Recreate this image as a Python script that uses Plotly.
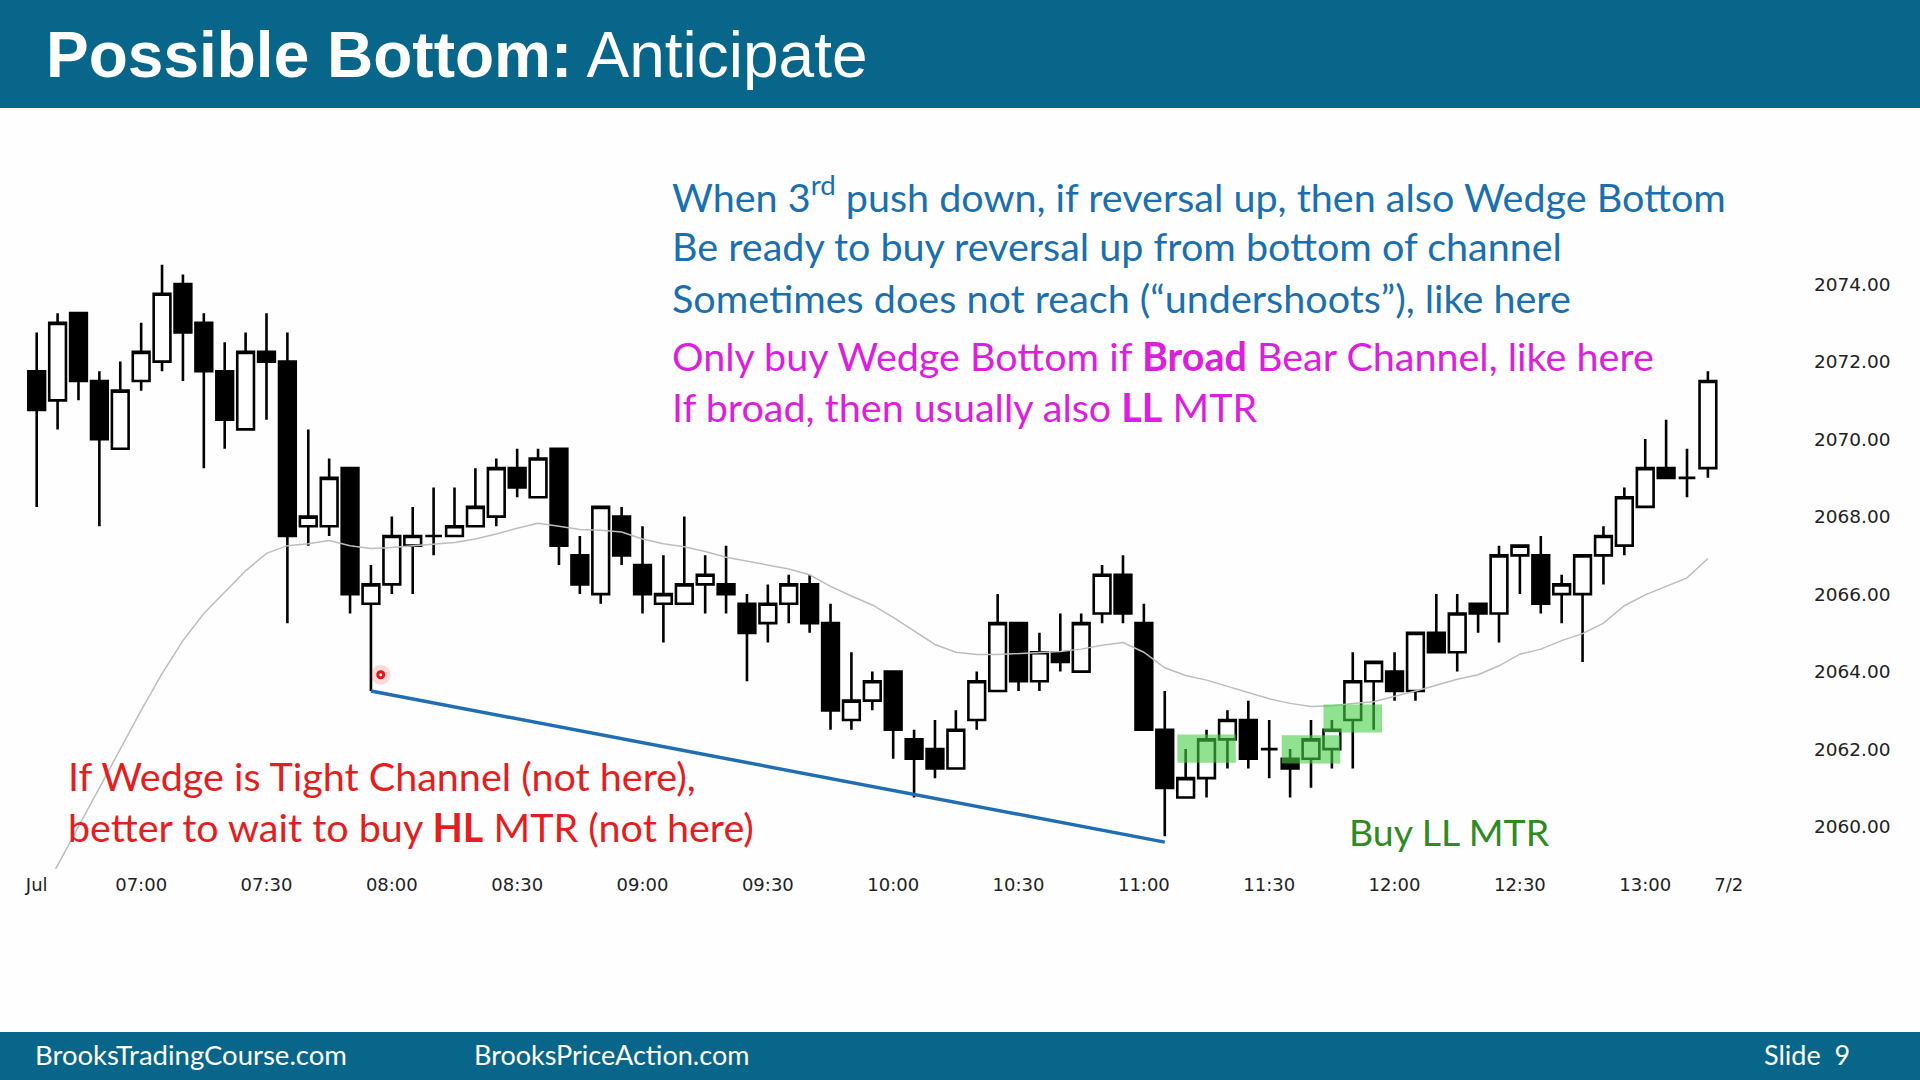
import plotly.graph_objects as go

# ---------------- data ----------------
bar_index = list(range(81))  # 5-min bars 06:35 .. 13:15
opens = [2071.75, 2071, 2073.25, 2071.5, 2069.75, 2071.5, 2072, 2074, 2073, 2071.75,
         2070.25, 2072.25, 2072, 2067.75, 2067.75, 2069.25, 2065.75, 2066.25, 2067.25, 2067.5,
         2067.5, 2067.75, 2068, 2069.25, 2068.5, 2069.75, 2067, 2066, 2068, 2066.75,
         2065.75, 2065.75, 2066.25, 2066.25, 2065.75, 2065.25, 2065.75, 2066.25, 2065.25, 2062.75,
         2063.25, 2064, 2062.25, 2062, 2061.5, 2062.75, 2063.5, 2065.25, 2063.75, 2064.5,
         2064, 2065.5, 2066.5, 2065.25, 2062.5, 2060.75, 2061.25, 2062.25, 2062.75, 2062,
         2061.75, 2061.75, 2062, 2062.75, 2063.75, 2064, 2063.5, 2065, 2064.5, 2065.75,
         2065.5, 2067, 2067, 2066, 2066, 2067, 2067.25, 2068.25, 2069.25, 2069,
         2069.25]
highs = [2072.75, 2073.25, 2073.25, 2071.75, 2072, 2073, 2074.5, 2074.25, 2073.25, 2072.5,
         2072.75, 2073.25, 2072.75, 2070.25, 2069.5, 2069.25, 2066.75, 2068, 2068.25, 2068.75,
         2068.75, 2069.25, 2069.5, 2069.75, 2069.75, 2069.75, 2067.5, 2068.25, 2068.25, 2067.75,
         2067, 2068, 2067, 2067.25, 2066, 2066.25, 2066.5, 2066.5, 2065.75, 2064.5,
         2064, 2064, 2062.5, 2062.75, 2063, 2064, 2066, 2065.25, 2065, 2065.5,
         2065.5, 2066.75, 2067, 2065.75, 2063.5, 2062, 2062.5, 2063, 2063.25, 2062.75,
         2062, 2062.75, 2062.75, 2064.5, 2064.25, 2064.5, 2065, 2066, 2066, 2065.75,
         2067.25, 2067.25, 2067.5, 2066.5, 2067, 2067.75, 2068.75, 2070, 2070.5, 2069.75,
         2071.75]
lows = [2068.25, 2070.25, 2071, 2067.75, 2069.75, 2071.25, 2071.75, 2071.5, 2069.25, 2069.75,
        2070.25, 2070.5, 2065.25, 2067.25, 2067.5, 2065.5, 2063.5, 2066, 2066, 2067,
        2067.5, 2067.75, 2067.75, 2068.5, 2068.5, 2066.75, 2066, 2065.75, 2066.75, 2065.5,
        2064.75, 2065.75, 2065.5, 2065.5, 2063.75, 2064.75, 2065.25, 2065, 2062.5, 2062.5,
        2063, 2061.75, 2060.75, 2061.25, 2061.5, 2062.5, 2063.5, 2063.5, 2063.5, 2064,
        2064, 2065.25, 2065.25, 2062.5, 2059.75, 2060.75, 2060.75, 2061.5, 2061.5, 2061.25,
        2060.75, 2061, 2061.5, 2061.5, 2062.5, 2063.25, 2063.25, 2064.5, 2064, 2065,
        2064.75, 2066, 2065.5, 2065.25, 2064.25, 2066.25, 2067, 2068.25, 2069, 2068.5,
        2069]
closes = [2070.75, 2073, 2071.5, 2070, 2071.25, 2072.25, 2073.75, 2072.75, 2071.75, 2070.5,
          2072.25, 2072, 2067.5, 2068, 2069, 2066, 2066.25, 2067.5, 2067.5, 2067.5,
          2067.75, 2068.25, 2069.25, 2068.75, 2069.5, 2067.25, 2066.25, 2068.25, 2067, 2066,
          2066, 2066.25, 2066.5, 2066, 2065, 2065.75, 2066.25, 2065.25, 2063, 2063.25,
          2063.75, 2062.5, 2061.75, 2061.5, 2062.5, 2063.75, 2065.25, 2063.75, 2064.5, 2064.25,
          2065.25, 2066.5, 2065.5, 2062.5, 2061, 2061.25, 2062.25, 2062.75, 2061.75, 2062,
          2061.5, 2062.25, 2062.5, 2063.75, 2064.25, 2063.5, 2065, 2064.5, 2065.5, 2065.5,
          2067, 2067.25, 2065.75, 2066.25, 2067, 2067.5, 2068.5, 2069.25, 2069, 2069,
          2071.5]
ema20 = [2058.0, 2059.0, 2060.0, 2061.0, 2062.0, 2063.0, 2063.95, 2064.8, 2065.5, 2066.05,
         2066.6, 2067.05, 2067.25, 2067.3, 2067.38, 2067.25, 2067.18, 2067.2, 2067.24, 2067.28,
         2067.33, 2067.42, 2067.55, 2067.7, 2067.83, 2067.75, 2067.67, 2067.65, 2067.6, 2067.42,
         2067.3, 2067.22, 2067.1, 2066.95, 2066.85, 2066.75, 2066.65, 2066.5, 2066.2, 2065.95,
         2065.72, 2065.4, 2065.05, 2064.7, 2064.5, 2064.44, 2064.44, 2064.47, 2064.5, 2064.52,
         2064.58, 2064.68, 2064.75, 2064.5, 2064.1, 2063.9, 2063.78, 2063.62, 2063.45, 2063.3,
         2063.18, 2063.1, 2063.12, 2063.18, 2063.22, 2063.35, 2063.5, 2063.65, 2063.8, 2063.92,
         2064.15, 2064.45, 2064.58, 2064.8, 2064.98, 2065.25, 2065.7, 2065.98, 2066.2, 2066.42,
         2066.92]

time_tick_pos = [0, 5, 11, 17, 23, 29, 35, 41, 47, 53, 59, 65, 71, 77, 81]
time_tick_text = ["Jul", "07:00", "07:30", "08:00", "08:30", "09:00", "09:30", "10:00",
                  "10:30", "11:00", "11:30", "12:00", "12:30", "13:00", "7/2"]
price_ticks = [2060, 2062, 2064, 2066, 2068, 2070, 2072, 2074]

wedge_x = [16, 54]
wedge_y = [2063.5, 2059.6]

# highlighted zones (bar range, price range)
zones_x0 = [54.6, 59.6, 61.6]
zones_x1 = [57.4, 62.4, 64.4]
zones_y0 = [2061.65, 2061.63, 2062.43]
zones_y1 = [2062.38, 2062.36, 2063.15]

cursor_x = [16.47]
cursor_y = [2063.92]

# ---------------- figure ----------------
W, H = 1920, 1080
fig = go.Figure()

fig.add_trace(go.Scatter(x=bar_index, y=ema20, mode="lines",
                         line=dict(color="#bdbdbd", width=1.5),
                         hoverinfo="skip", showlegend=False))

fig.add_trace(go.Candlestick(
    x=bar_index, open=opens, high=highs, low=lows, close=closes,
    increasing=dict(line=dict(color="black", width=2.6), fillcolor="white"),
    decreasing=dict(line=dict(color="black", width=2.6), fillcolor="black"),
    whiskerwidth=0, showlegend=False, hoverinfo="skip"))

fig.add_trace(go.Scatter(x=wedge_x, y=wedge_y, mode="lines",
                         line=dict(color="#1f6db3", width=3.5),
                         hoverinfo="skip", showlegend=False))

# cursor dot
fig.add_trace(go.Scatter(x=cursor_x, y=cursor_y, mode="markers",
                         marker=dict(size=20, color="rgba(255,60,60,0.18)"),
                         hoverinfo="skip", showlegend=False))
fig.add_trace(go.Scatter(x=cursor_x, y=cursor_y, mode="markers",
                         marker=dict(size=9, color="#e8141c"),
                         hoverinfo="skip", showlegend=False))
fig.add_trace(go.Scatter(x=cursor_x, y=cursor_y, mode="markers",
                         marker=dict(size=3, color="white"),
                         hoverinfo="skip", showlegend=False))

shapes = []
for x0, x1, y0, y1 in zip(zones_x0, zones_x1, zones_y0, zones_y1):
    shapes.append(dict(type="rect", xref="x", yref="y", x0=x0, x1=x1, y0=y0, y1=y1,
                       fillcolor="rgba(70,205,70,0.6)", line=dict(width=0), layer="above"))

# header & footer bars
head_col = "#07668a"
shapes.append(dict(type="rect", xref="paper", yref="paper", x0=0, x1=1,
                   y0=1 - 108 / H, y1=1, fillcolor=head_col, line=dict(width=0), layer="above"))
shapes.append(dict(type="rect", xref="paper", yref="paper", x0=0, x1=1,
                   y0=0, y1=1 - 1032 / H, fillcolor=head_col, line=dict(width=0), layer="above"))


def px(x):
    return x / W


def py(y):
    return 1 - y / H


ann = []


def text(x, y, s, size, color, family="Lato", anchor="left"):
    ann.append(dict(x=px(x), y=py(y), xref="paper", yref="paper", text=s, showarrow=False,
                    xanchor=anchor, yanchor="middle",
                    font=dict(family=family, size=size, color=color)))


text(44, 55, "<b>Possible Bottom:</b> Anticipate", 64, "white", family="Liberation Sans, Arial")

blue = "#1a6fb0"
mag = "#dc1fdc"
fs = 39.5
text(670, 194, "When 3<sup>rd</sup> push down, if reversal up, then also Wedge Bottom", fs, blue)
text(670, 246, "Be ready to buy reversal up from bottom of channel", fs, blue)
text(670, 297, "Sometimes does not reach (\u201cundershoots\u201d), like here", fs, blue)
text(670, 355, "Only buy Wedge Bottom if <b>Broad</b> Bear Channel, like here", fs, mag)
text(670, 406, "If broad, then usually also <b>LL</b> MTR", fs, mag)

red = "#e41e1e"
text(66, 775, "If Wedge is Tight Channel (not here),", fs, red)
text(66, 826, "better to wait to buy <b>HL</b> MTR (not here)", fs, red)

text(1347, 831, "Buy LL MTR", 37.5, "#2f8a1f")

text(33, 1054, "BrooksTradingCourse.com", 27.5, "white")
text(472, 1054, "BrooksPriceAction.com", 27, "white")
text(1852, 1054, "Slide  9", 27, "white", anchor="right")

# plot area geometry (pixels)
plot_left, plot_right = 0, 1805
plot_top, plot_bottom = 110, 869
bar_px = 20.89
x0_px = 36.7
y_ref_px = 284.1
pt_px = 38.75

x_range = [(plot_left - x0_px) / bar_px, (plot_right - x0_px) / bar_px]
y_range = [2074 - (plot_bottom - y_ref_px) / pt_px, 2074 + (y_ref_px - plot_top) / pt_px]

fig.update_layout(
    width=W, height=H, autosize=False,
    margin=dict(l=0, r=0, t=0, b=0, pad=0),
    paper_bgcolor="#fefefe", plot_bgcolor="#fefefe",
    boxgap=0.2, boxgroupgap=0,
    shapes=shapes, annotations=ann,
    xaxis=dict(domain=[px(plot_left), px(plot_right)], range=x_range,
               tickmode="array", tickvals=time_tick_pos, ticktext=time_tick_text,
               showgrid=False, zeroline=False, showline=False, ticks="",
               ticklabelstandoff=3,
               tickfont=dict(family="DejaVu Sans", size=18, color="#222222"),
               rangeslider=dict(visible=False), fixedrange=True),
    yaxis=dict(domain=[py(plot_bottom), py(plot_top)], range=y_range, side="right",
               tickmode="array", tickvals=price_ticks,
               ticktext=["%.2f" % v for v in price_ticks],
               showgrid=False, zeroline=False, showline=False, ticks="",
               ticklabelstandoff=8,
               tickfont=dict(family="DejaVu Sans", size=18.5, color="#222222"),
               fixedrange=True),
    showlegend=False,
)

fig.write_html("out.html")
